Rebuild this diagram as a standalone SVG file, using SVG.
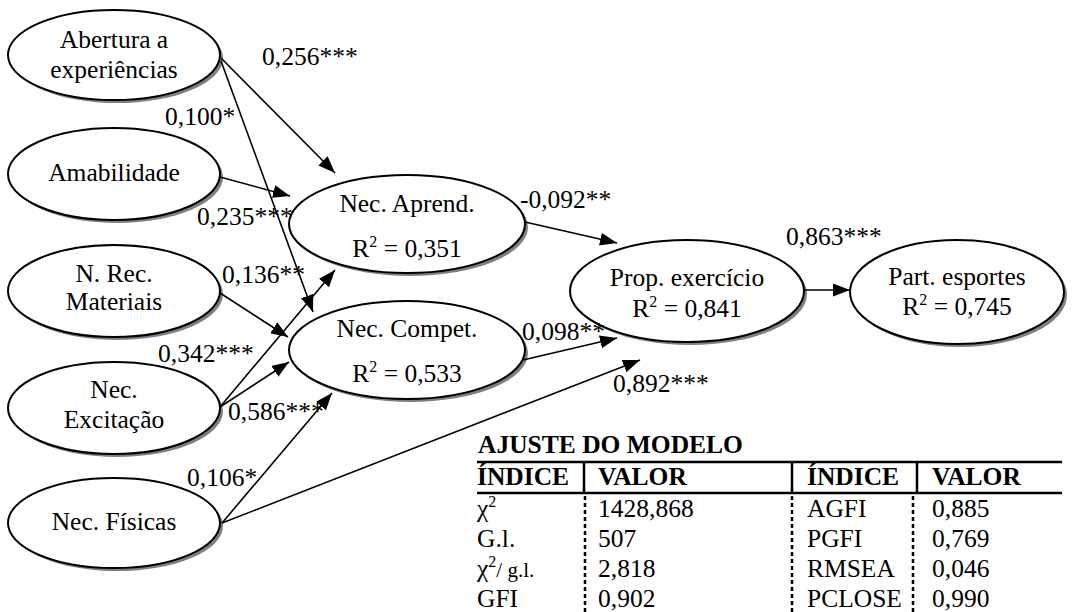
<svg xmlns="http://www.w3.org/2000/svg" width="1076" height="612" viewBox="0 0 1076 612">
  <style>
    text { font-family: "Liberation Serif", "Times New Roman", serif; font-size: 25.5px; fill: #000; }
    .node { fill: #fff; stroke: #000; stroke-width: 2; }
    .shadow { fill: #7f7f7f; }
    .mid { text-anchor: middle; }
    .edge { stroke: #000; stroke-width: 1.6; fill: none; marker-end: url(#arrow); }
    .bold { font-weight: bold; }
    .rule { stroke: #000; stroke-width: 2.5; }
    .dots { stroke: #000; stroke-width: 2.5; stroke-dasharray: 4 3; }
    .sup { font-size: 16px; }
  </style>
  <defs>
    <marker id="arrow" markerUnits="userSpaceOnUse" markerWidth="17" markerHeight="13" refX="17" refY="6.5" orient="auto">
      <path d="M0,0 L17,6.5 L0,13 z" fill="#000"/>
    </marker>
  </defs>
  <rect width="1076" height="612" fill="#fff"/>

  <!-- exogenous factors -->
  <g id="abertura">
    <ellipse class="shadow" cx="117" cy="58" rx="106" ry="45"/>
    <ellipse class="node" cx="114" cy="55" rx="106" ry="45"/>
    <text class="mid" x="114" y="48">Abertura a</text>
    <text class="mid" x="114" y="78">experiências</text>
  </g>
  <g id="amabilidade">
    <ellipse class="shadow" cx="117" cy="177" rx="106" ry="46"/>
    <ellipse class="node" cx="114" cy="174" rx="106" ry="46"/>
    <text class="mid" x="114" y="181">Amabilidade</text>
  </g>
  <g id="rec-materiais">
    <ellipse class="shadow" cx="117" cy="294" rx="106" ry="46"/>
    <ellipse class="node" cx="114" cy="291" rx="106" ry="46"/>
    <text class="mid" x="114" y="282">N. Rec.</text>
    <text class="mid" x="114" y="310">Materiais</text>
  </g>
  <g id="excitacao">
    <ellipse class="shadow" cx="117" cy="411" rx="106" ry="46"/>
    <ellipse class="node" cx="114" cy="408" rx="106" ry="46"/>
    <text class="mid" x="114" y="398">Nec.</text>
    <text class="mid" x="114" y="428">Excitação</text>
  </g>
  <g id="fisicas">
    <ellipse class="shadow" cx="117" cy="526" rx="106" ry="45"/>
    <ellipse class="node" cx="114" cy="523" rx="106" ry="45"/>
    <text class="mid" x="114" y="530">Nec. Físicas</text>
  </g>

  <!-- mediators -->
  <g id="aprend">
    <ellipse class="shadow" cx="410" cy="227" rx="118" ry="49"/>
    <ellipse class="node" cx="407" cy="224" rx="118" ry="49"/>
    <text class="mid" x="407" y="212">Nec. Aprend.</text>
    <text class="mid" x="407" y="257">R<tspan class="sup" dy="-10">2</tspan><tspan dy="10"> = 0,351</tspan></text>
  </g>
  <g id="compet">
    <ellipse class="shadow" cx="410" cy="353" rx="118" ry="49"/>
    <ellipse class="node" cx="407" cy="350" rx="118" ry="49"/>
    <text class="mid" x="407" y="337">Nec. Compet.</text>
    <text class="mid" x="407" y="382">R<tspan class="sup" dy="-10">2</tspan><tspan dy="10"> = 0,533</tspan></text>
  </g>

  <!-- outcomes -->
  <g id="prop-exercicio">
    <ellipse class="shadow" cx="690" cy="294" rx="117" ry="51"/>
    <ellipse class="node" cx="687" cy="291" rx="117" ry="51"/>
    <text class="mid" x="687" y="286">Prop. exercício</text>
    <text class="mid" x="687" y="317">R<tspan class="sup" dy="-10">2</tspan><tspan dy="10"> = 0,841</tspan></text>
  </g>
  <g id="part-esportes">
    <ellipse class="shadow" cx="960" cy="295" rx="107" ry="52"/>
    <ellipse class="node" cx="957" cy="292" rx="107" ry="52"/>
    <text class="mid" x="957" y="285">Part. esportes</text>
    <text class="mid" x="957" y="315">R<tspan class="sup" dy="-10">2</tspan><tspan dy="10"> = 0,745</tspan></text>
  </g>

  <!-- paths -->
  <g id="connectors">
    <line class="edge" x1="221" y1="58" x2="335" y2="173"/>
    <line class="edge" x1="221" y1="61" x2="313" y2="312"/>
    <line class="edge" x1="220" y1="177" x2="290" y2="196"/>
    <line class="edge" x1="220" y1="293" x2="288" y2="337"/>
    <line class="edge" x1="220" y1="407" x2="335" y2="270"/>
    <line class="edge" x1="220" y1="407" x2="289" y2="362"/>
    <line class="edge" x1="222" y1="523" x2="332" y2="393"/>
    <line class="edge" x1="222" y1="523" x2="640" y2="360"/>
    <line class="edge" x1="525" y1="222" x2="617" y2="243"/>
    <line class="edge" x1="523" y1="360" x2="617" y2="338"/>
    <line class="edge" x1="805" y1="290" x2="850" y2="290"/>
  </g>

  <!-- path coefficients -->
  <g id="coefficients">
    <text x="262" y="65">0,256***</text>
    <text x="165" y="125">0,100*</text>
    <text x="197" y="225">0,235***</text>
    <text x="222" y="283">0,136**</text>
    <text x="158" y="362">0,342***</text>
    <text x="228" y="420">0,586***</text>
    <text x="187" y="486">0,106*</text>
    <text x="520" y="208">-0,092**</text>
    <text x="522" y="340">0,098**</text>
    <text x="613" y="392">0,892***</text>
    <text x="786" y="245">0,863***</text>
  </g>

  <!-- fit table -->
  <g id="fit-table">
    <text class="bold" x="478" y="453">AJUSTE DO MODELO</text>
    <line class="rule" x1="477" y1="462" x2="1062" y2="462"/>
    <line class="rule" x1="477" y1="493" x2="1062" y2="493"/>
    <line class="rule" x1="584" y1="462" x2="584" y2="493"/>
    <line class="rule" x1="792" y1="462" x2="792" y2="493"/>
    <line class="rule" x1="917" y1="462" x2="917" y2="493"/>
    <line class="dots" x1="585" y1="496" x2="585" y2="612"/>
    <line class="dots" x1="792" y1="496" x2="792" y2="612"/>
    <line class="dots" x1="913" y1="496" x2="913" y2="612"/>
    <text class="bold" x="477" y="485">ÍNDICE</text>
    <text class="bold" x="598" y="485">VALOR</text>
    <text class="bold" x="807" y="485">ÍNDICE</text>
    <text class="bold" x="932" y="485">VALOR</text>

    <text x="477" y="517">χ<tspan class="sup" dy="-10">2</tspan></text>
    <text x="598" y="517">1428,868</text>
    <text x="807" y="517">AGFI</text>
    <text x="932" y="517">0,885</text>

    <text x="477" y="547">G.l.</text>
    <text x="598" y="547">507</text>
    <text x="807" y="547">PGFI</text>
    <text x="932" y="547">0,769</text>

    <text x="477" y="577">χ<tspan class="sup" dy="-10">2</tspan><tspan dy="10" font-size="21px">/ g.l.</tspan></text>
    <text x="598" y="577">2,818</text>
    <text x="807" y="577">RMSEA</text>
    <text x="932" y="577">0,046</text>

    <text x="477" y="607">GFI</text>
    <text x="598" y="607">0,902</text>
    <text x="807" y="607">PCLOSE</text>
    <text x="932" y="607">0,990</text>
  </g>
</svg>
